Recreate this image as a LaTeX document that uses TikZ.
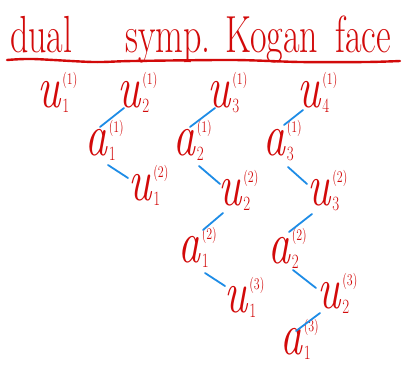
\documentclass[tikz,border=0pt]{standalone}
\usepackage{fontspec}
\setmainfont{Latin Modern Roman}
\usetikzlibrary{calc}
\definecolor{ink}{RGB}{210,10,10}
\definecolor{pen}{RGB}{30,140,230}
\newcommand{\gl}[3]{\textit{#1}\hspace{1pt}\rlap{\raisebox{17pt}{\fontsize{12}{12}\selectfont(#2)}}\raisebox{-4pt}{\fontsize{15}{15}\selectfont #3}}
\begin{document}
\begin{tikzpicture}[x=1pt,y=-1pt,
  title/.style={anchor=base west,inner sep=0pt,text=ink,font=\fontsize{36}{36}\selectfont,yscale=1.45,transform shape},
  var/.style={anchor=base west,inner sep=0pt,text=ink,font=\fontsize{44}{44}\selectfont,yscale=1.35,transform shape},
  conn/.style={draw=pen,line width=1.8pt,line cap=round}]
\useasboundingbox (0,0) rectangle (403,367);
% title
\node[title] (t1) at (10,52) {dual};
\node[title] (t2) at (125,52) {symp.};
\node[title] (t3) at (225,52) {Kogan};
\node[title] (t4) at (335,52) {face};
\draw[ink,line width=2.4pt,line cap=round] plot[smooth] coordinates {(7,60) (33,59) (93,62) (133,61) (233,60) (300,62) (367,62) (400,61)};
% row 1
\node[var] (u11) at (37,107) {\gl{u}{1}{1}};
\node[var] (u21) at (117,107) {\gl{u}{1}{2}};
\node[var] (u31) at (207,107) {\gl{u}{1}{3}};
\node[var] (u41) at (297,107) {\gl{u}{1}{4}};
% row 2
\node[var] (a11) at (85,155) {\gl{a}{1}{1}};
\node[var] (a21) at (173,155) {\gl{a}{1}{2}};
\node[var] (a31) at (263,155) {\gl{a}{1}{3}};
% row 3
\node[var] (u12) at (128,200) {\gl{u}{2}{1}};
\node[var] (u22) at (218,205) {\gl{u}{2}{2}};
\node[var] (u32) at (307,205) {\gl{u}{2}{3}};
% row 4
\node[var] (a12) at (178,262) {\gl{a}{2}{1}};
\node[var] (a22) at (268,263) {\gl{a}{2}{2}};
% row 5
\node[var] (u13) at (224,312) {\gl{u}{3}{1}};
\node[var] (u23) at (317,308) {\gl{u}{3}{2}};
% row 6
\node[var] (a13) at (280,354) {\gl{a}{3}{1}};
% connectors
\draw[conn] ([shift={(7,1)}]u21.base west) -- ([shift={(15,-28)}]a11.base west);
\draw[conn] ([shift={(8,1)}]u31.base west) -- ([shift={(17,-28)}]a21.base west);
\draw[conn] ([shift={(6,3)}]u41.base west) -- ([shift={(21,-30)}]a31.base west);
\draw[conn] ([shift={(23,10)}]a11.base west) -- ([shift={(0,-22)}]u12.base west);
\draw[conn] ([shift={(26,11)}]a21.base west) -- ([shift={(2,-21)}]u22.base west);
\draw[conn] ([shift={(25,12)}]a31.base west) -- ([shift={(0,-21)}]u32.base west);
\draw[conn] ([shift={(5,8)}]u22.base west) -- ([shift={(25,-32)}]a12.base west);
\draw[conn] ([shift={(5,9)}]u32.base west) -- ([shift={(21,-31)}]a22.base west);
\draw[conn] ([shift={(27,11)}]a12.base west) -- ([shift={(1,-26)}]u13.base west);
\draw[conn] ([shift={(25,7)}]a22.base west) -- ([shift={(-1,-20)}]u23.base west);
\draw[conn] ([shift={(3,5)}]u23.base west) -- ([shift={(16,-23)}]a13.base west);
\end{tikzpicture}
\end{document}
